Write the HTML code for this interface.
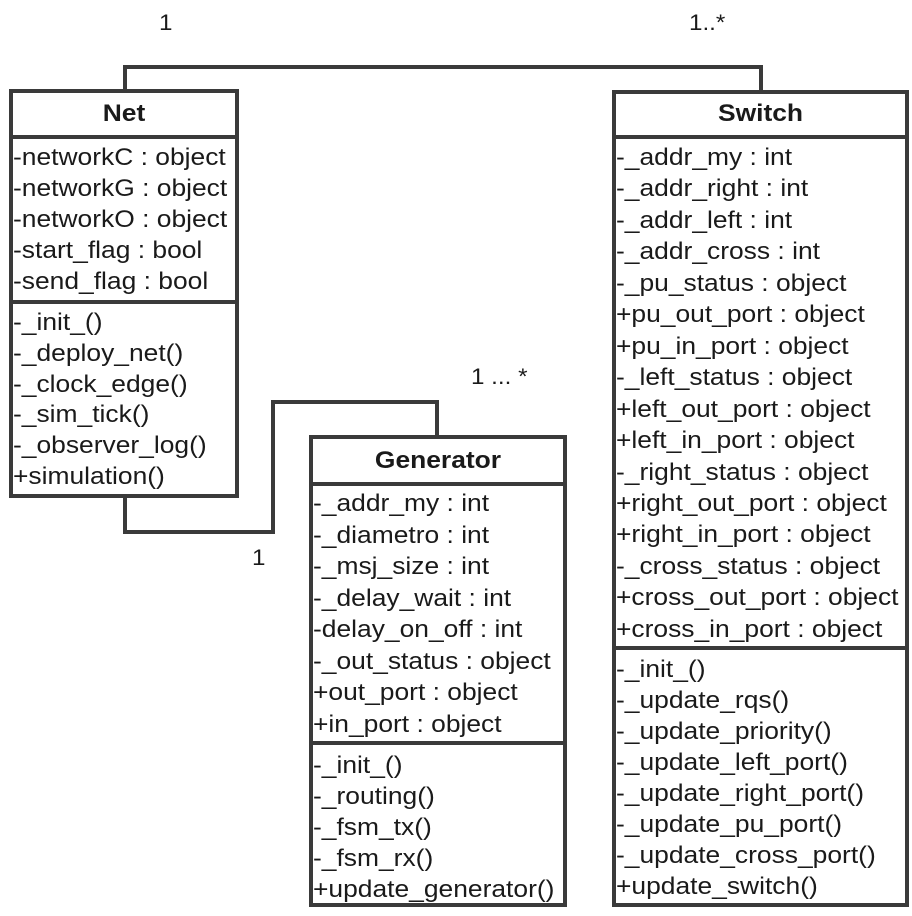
<!DOCTYPE html>
<html><head><meta charset="utf-8"><style>
body{margin:0;width:912px;height:916px;background:#fff;position:relative;overflow:hidden;font-family:"Liberation Sans",sans-serif;color:#1a1a1a}
.t{position:absolute;font-size:24px;line-height:31px;white-space:nowrap;transform:scaleX(1.1);transform-origin:0 0}
.h{position:absolute;font-size:24px;font-weight:bold;text-align:center;transform:scaleX(1.1);transform-origin:50% 0}
.l{position:absolute;font-size:22px;transform:scaleX(1.1);transform-origin:0 0}
</style></head><body>
<svg width="912" height="916" style="position:absolute;left:0;top:0" fill="none" stroke="#3a3a3a" stroke-width="4">
<polyline points="125,90 125,67 761,67 761,92"/>
<polyline points="125,496 125,532 273,532 273,402 437,402 437,437"/>
<rect x="11" y="91" width="226" height="405"/>
<line x1="11" y1="137" x2="237" y2="137"/>
<line x1="11" y1="302" x2="237" y2="302"/>
<rect x="311" y="437" width="254" height="468"/>
<line x1="311" y1="484" x2="565" y2="484"/>
<line x1="311" y1="743" x2="565" y2="743"/>
<rect x="614" y="92" width="293" height="813"/>
<line x1="614" y1="137" x2="907" y2="137"/>
<line x1="614" y1="648" x2="907" y2="648"/>
</svg>
<div class="l" style="left:159px;top:10px">1</div>
<div class="l" style="left:689px;top:10px">1..*</div>
<div class="l" style="left:471px;top:364px">1 ... *</div>
<div class="l" style="left:252px;top:545px">1</div>

<div class="h" style="left:11px;width:226px;top:100px">Net</div>
<div class="t" style="left:13px;top:142px">-networkC : object<br>-networkG : object<br>-networkO : object<br>-start_flag : bool<br>-send_flag : bool</div>
<div class="t" style="left:13px;top:308px;line-height:30.8px">-_init_()<br>-_deploy_net()<br>-_clock_edge()<br>-_sim_tick()<br>-_observer_log()<br>+simulation()</div>

<div class="h" style="left:311px;width:254px;top:447px">Generator</div>
<div class="t" style="left:313px;top:488px;line-height:31.5px">-_addr_my : int<br>-_diametro : int<br>-_msj_size : int<br>-_delay_wait : int<br>-delay_on_off : int<br>-_out_status : object<br>+out_port : object<br>+in_port : object</div>
<div class="t" style="left:313px;top:750px">-_init_()<br>-_routing()<br>-_fsm_tx()<br>-_fsm_rx()<br>+update_generator()</div>

<div class="h" style="left:614px;width:293px;top:100px">Switch</div>
<div class="t" style="left:616px;top:142px;line-height:31.45px">-_addr_my : int<br>-_addr_right : int<br>-_addr_left : int<br>-_addr_cross : int<br>-_pu_status : object<br>+pu_out_port : object<br>+pu_in_port : object<br>-_left_status : object<br>+left_out_port : object<br>+left_in_port : object<br>-_right_status : object<br>+right_out_port : object<br>+right_in_port : object<br>-_cross_status : object<br>+cross_out_port : object<br>+cross_in_port : object</div>
<div class="t" style="left:616px;top:654px">-_init_()<br>-_update_rqs()<br>-_update_priority()<br>-_update_left_port()<br>-_update_right_port()<br>-_update_pu_port()<br>-_update_cross_port()<br>+update_switch()</div>
</body></html>
